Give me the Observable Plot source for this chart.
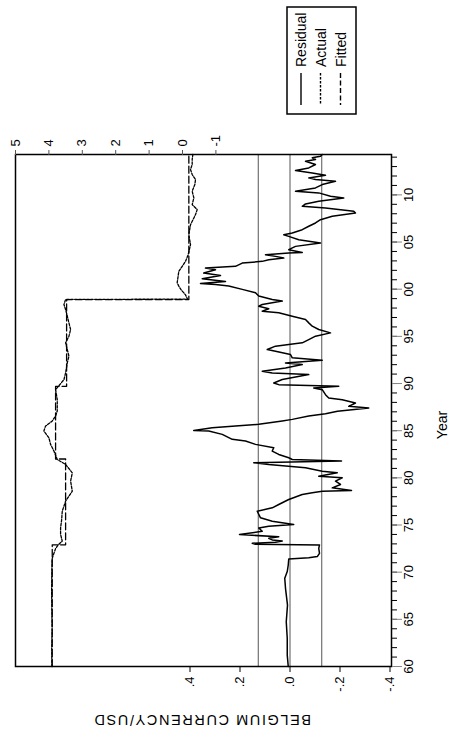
<!DOCTYPE html>
<html><head><meta charset="utf-8">
<script src="https://cdn.jsdelivr.net/npm/d3@7"></script>
<script src="https://cdn.jsdelivr.net/npm/@observablehq/plot@0.6"></script>
<style>
html,body{margin:0;padding:0;background:#fff;}
#wrap{position:relative;width:459px;height:731px;overflow:hidden;font-family:"Liberation Sans",Arial,sans-serif;}
#wrap svg{position:absolute;left:0;top:0;}
</style></head><body><div id="wrap"></div>
<script>
// ---- data ----
const residYears = [1960.00,1961.20,1962.97,1964.74,1966.51,1968.29,1969.35,1970.06,1970.76,1971.40,1971.54,1971.65,1972.00,1972.53,1972.89,1972.96,1973.07,1973.17,1973.31,1973.42,1973.60,1973.75,1973.99,1974.34,1974.69,1974.87,1975.05,1975.40,1975.76,1976.46,1976.82,1977.17,1977.70,1978.24,1978.41,1978.59,1978.66,1978.94,1979.30,1979.65,1980.01,1980.18,1980.54,1980.71,1981.07,1981.42,1981.60,1981.78,1981.95,1982.13,1982.48,1982.84,1983.19,1983.55,1983.90,1984.08,1984.61,1984.96,1985.03,1985.32,1985.49,1985.67,1986.03,1986.20,1986.56,1986.80,1987.07,1987.40,1987.58,1987.93,1988.29,1988.47,1988.82,1989.35,1989.53,1989.71,1989.88,1990.06,1990.42,1990.95,1991.12,1991.30,1991.65,1992.01,1992.18,1992.47,1992.72,1993.07,1993.43,1993.60,1993.96,1994.13,1994.31,1994.66,1995.02,1995.37,1995.73,1996.08,1996.43,1996.79,1997.14,1997.50,1997.67,1997.92,1998.20,1998.38,1998.74,1998.91,1999.27,1999.62,1999.98,2000.33,2000.51,2000.60,2000.82,2001.11,2001.46,2001.71,2002.06,2002.24,2002.42,2002.77,2002.95,2003.13,2003.30,2003.48,2003.66,2003.83,2003.90,2004.19,2004.54,2004.90,2005.25,2005.60,2005.78,2005.96,2006.31,2006.67,2007.02,2007.37,2007.73,2008.08,2008.26,2008.61,2008.79,2009.04,2009.32,2009.68,2009.85,2010.21,2010.39,2010.74,2011.09,2011.45,2011.62,2011.80,2012.08,2012.33,2012.58,2012.86,2013.22,2013.57,2013.75,2013.93,2014.10,2014.28];
const residValues = [0.007,0.011,0.011,0.015,0.010,0.018,0.021,0.011,0.007,0.005,-0.075,-0.109,-0.118,-0.115,-0.118,0.138,0.151,0.058,0.031,0.071,0.085,0.045,0.202,0.111,0.125,0.085,-0.015,0.071,0.118,0.131,0.071,0.045,0.005,-0.049,-0.089,-0.129,-0.246,-0.169,-0.202,-0.182,-0.209,-0.115,-0.189,-0.129,-0.062,0.085,0.145,-0.206,-0.009,0.005,0.045,0.071,0.065,0.138,0.178,0.231,0.271,0.325,0.385,0.311,0.218,0.125,0.031,-0.009,-0.075,-0.142,-0.190,-0.315,-0.235,-0.262,-0.209,-0.155,-0.142,-0.129,-0.095,-0.195,0.045,0.065,0.031,-0.075,0.071,0.111,0.018,-0.049,0.018,-0.129,-0.009,-0.002,0.058,0.091,0.058,0.005,-0.049,-0.075,-0.102,-0.162,-0.115,-0.089,-0.075,-0.062,-0.009,0.045,0.111,0.085,0.125,0.111,0.031,0.071,0.125,0.138,0.191,0.245,0.298,0.358,0.258,0.351,0.278,0.345,0.298,0.338,0.218,0.191,0.111,0.085,0.025,0.058,0.098,0.005,-0.049,0.005,-0.022,-0.122,-0.035,0.005,0.025,-0.009,-0.049,-0.075,-0.102,-0.122,-0.169,-0.262,-0.255,-0.142,-0.049,-0.062,-0.115,-0.215,-0.162,-0.115,-0.022,-0.102,-0.129,-0.182,-0.102,-0.075,-0.142,-0.089,-0.022,-0.075,-0.102,-0.062,-0.102,-0.089,-0.122,-0.129];

const actualYears = [1960.0,1962.0,1964.0,1966.0,1968.0,1970.0,1971.4,1971.8,1972.5,1972.9,1973.3,1974.0,1974.7,1975.5,1976.46,1977.53,1978.59,1979.65,1980.53,1981.42,1981.95,1982.84,1983.55,1984.25,1984.96,1985.49,1986.02,1986.56,1987.09,1988.29,1989.35,1990.41,1991.12,1992.19,1992.90,1993.60,1994.31,1995.02,1995.73,1996.43,1997.15,1997.85,1998.38,1998.91,1998.95,1999.40,1999.98,2000.33,2000.68,2001.89,2002.95,2003.66,2004.72,2005.78,2006.84,2007.91,2008.44,2008.97,2009.68,2010.39,2011.10,2011.63,2012.16,2012.69,2013.22,2013.75,2014.28];
const actualValues = [3.912,3.915,3.905,3.912,3.918,3.912,3.905,3.87,3.80,3.72,3.60,3.65,3.65,3.62,3.60,3.50,3.30,3.35,3.30,3.50,3.75,3.85,3.95,4.00,4.15,4.10,3.90,3.80,3.75,3.75,3.80,3.55,3.50,3.45,3.40,3.45,3.50,3.40,3.35,3.40,3.45,3.50,3.55,3.50,-0.15,-0.09,0.05,0.11,0.16,0.11,-0.09,-0.17,-0.24,-0.19,-0.24,-0.39,-0.44,-0.29,-0.34,-0.29,-0.37,-0.39,-0.29,-0.24,-0.29,-0.29,-0.31];

const fittedBreaks = [1960, 1972.9, 1982.0, 1989.7, 1998.9, 2014.28];
const fittedLevels = [3.90, 3.50, 3.80, 3.47, -0.19];

const residTicks = [0.4, 0.2, 0, -0.2, -0.4];
const residTickLabels = [".4", ".2", ".0", "-.2", "-.4"];
const actualTicks = [5, 4, 3, 2, 1, 0, -1];
const actualTickLabels = ["5", "4", "3", "2", "1", "0", "-1"];
const yearTicks = [1960, 1965, 1970, 1975, 1980, 1985, 1990, 1995, 2000, 2005, 2010];
const yearTickLabels = ["60", "65", "70", "75", "80", "85", "90", "95", "00", "05", "10"];
const bandLevels = [0.127, 0, -0.127];
const seriesNames = ["Residual", "Actual", "Fitted"];
const axisTitle = "BELGIUM CURRENCY/USD";
const yearTitle = "Year";

// ---- derived tables ----
const resid = residYears.map((y, i) => ({year: y, r: residValues[i]}));
const actual = actualYears.map((y, i) => ({year: y, a: actualValues[i]}));
const fitted = fittedLevels.flatMap((v, i) => [{year: fittedBreaks[i], a: v}, {year: fittedBreaks[i + 1], a: v}]);
// right-hand (actual/fitted) axis expressed in residual units
const toR = d3.scaleLinear().domain([-1, 5]).range([0.2964, 1.098]);

const font = "'Liberation Sans', Arial, sans-serif";
const chart = Plot.plot({
  width: 459, height: 731,
  marginLeft: 15, marginRight: 68, marginTop: 154, marginBottom: 65,
  style: {fontFamily: font, fontSize: "13px", color: "#000", background: "transparent", overflow: "visible"},
  x: {domain: [1.098, -0.406]},
  y: {domain: [1960, 2014.28]},
  marks: [
    Plot.ruleX(bandLevels, {stroke: "#555", strokeWidth: 1}),
    Plot.line(actual, {x: d => toR(d.a), y: "year", stroke: "#000", strokeWidth: 1.3, strokeDasharray: "2.5,1.5"}),
    Plot.line(fitted, {x: d => toR(d.a), y: "year", stroke: "#000", strokeWidth: 1.3, strokeDasharray: "7,3"}),
    Plot.line(resid, {x: "r", y: "year", stroke: "#000", strokeWidth: 1.5}),
    Plot.frame({stroke: "#000", strokeWidth: 1.5}),
    Plot.axisX({anchor: "bottom", ticks: residTicks, tickFormat: d => residTickLabels[residTicks.findIndex(v => Math.abs(v - d) < 1e-9)], tickSize: 6, tickRotate: -90, tickPadding: 4, label: null}),
    Plot.axisX({anchor: "top", ticks: actualTicks.map(v => toR(v)), tickFormat: d => actualTickLabels[actualTicks.findIndex(v => Math.abs(toR(v) - d) < 1e-9)], tickSize: 5, tickRotate: -90, tickPadding: 3, label: null, stroke: "#555"}),
    Plot.axisY({anchor: "right", ticks: d3.range(1960, 2015), tickSize: 5, tickFormat: () => "", label: null, stroke: "#000"}),
    Plot.axisY({anchor: "right", ticks: yearTicks, tickFormat: d => yearTickLabels[yearTicks.indexOf(d)], tickSize: 10, tickRotate: -90, tickPadding: 11, label: null, stroke: "#888"})
  ]
});
document.getElementById("wrap").appendChild(chart);

// ---- overlay: legend and titles ----
const svg = d3.select("#wrap").append("svg").attr("width", 459).attr("height", 731)
  .style("font-family", font).style("pointer-events", "none");
svg.append("rect").attr("x", 287).attr("y", 7).attr("width", 69).attr("height", 107)
  .attr("fill", "#fff").attr("stroke", "#000").attr("stroke-width", 1.5);
const legendX = [301, 320.5, 340.5];
const legendDash = [null, "2.5,1.5", "5,2.5"];
seriesNames.forEach((name, i) => {
  svg.append("line").attr("x1", legendX[i]).attr("x2", legendX[i]).attr("y1", 73).attr("y2", 105)
    .attr("stroke", "#000").attr("stroke-width", 1.4).attr("stroke-dasharray", legendDash[i]);
  svg.append("text").attr("transform", `translate(${legendX[i] + 5.3},67) rotate(-90)`)
    .attr("font-size", 14).attr("text-anchor", "start").text(name);
});
svg.append("text").attr("transform", "translate(447,425) rotate(-90)")
  .attr("font-size", 14).attr("text-anchor", "middle").text(yearTitle);
svg.append("text").attr("transform", "translate(202,715) rotate(180)")
  .attr("font-size", 14.5).attr("letter-spacing", 1.6).attr("text-anchor", "middle").text(axisTitle);
</script></body></html>
